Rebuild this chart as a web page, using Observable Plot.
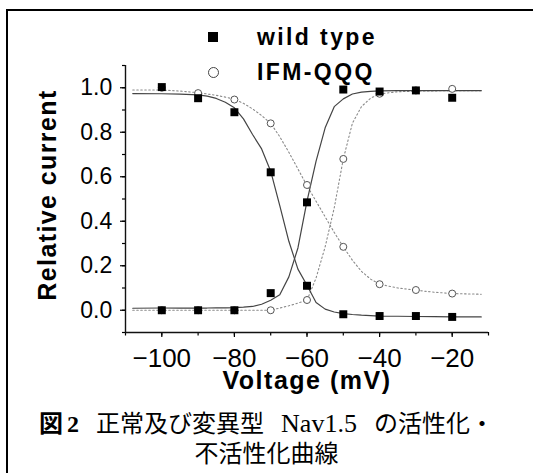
<!DOCTYPE html>
<html>
<head>
<meta charset="utf-8">
<script src="https://cdn.jsdelivr.net/npm/d3@7"></script>
<script src="https://cdn.jsdelivr.net/npm/@observablehq/plot@0.6"></script>
<style>
  html, body { margin: 0; padding: 0; background: #fff; }
  #wrap { position: relative; width: 533px; height: 473px; overflow: hidden; background: #fff; }
  #chart { position: absolute; left: 0; top: 0; }
  #frame { position: absolute; left: 6px; top: 9px; width: 700px; height: 700px;
           border-left: 2px solid #000; border-top: 2px solid #000; pointer-events: none; }
  .leg { position: absolute; font-family: "Liberation Sans", Arial, sans-serif; font-weight: bold;
         font-size: 23px; line-height: 23px; letter-spacing: 2.4px; color: #000; white-space: nowrap; }
  .sym-sq { position: absolute; width: 10px; height: 10px; background: #000; }
  .sym-ci { position: absolute; width: 9px; height: 9px; border: 1px solid #444; border-radius: 50%; background: #fff; }
  .cap { position: absolute; left: 0; width: 533px; text-align: center; font-size: 24px; line-height: 33px;
         font-family: "Liberation Serif", "Noto Sans CJK JP", serif; color: #000; white-space: nowrap; }
  .cap .fig { font-family: "Noto Sans CJK JP", sans-serif; font-weight: bold; }
  .cap .num { font-family: "Liberation Serif", serif; font-weight: bold; margin-left: 4px; }
  .cap .g { margin-left: 17px; }
  .cap .lat { font-size: 26px; }
</style>
</head>
<body>
<div id="wrap">
  <div id="chart"></div>
  <div class="sym-sq" style="left:208px; top:32px;"></div>
  <div class="leg" style="left:257px; top:25.5px;">wild type</div>
  <div class="sym-ci" style="left:208px; top:67px;"></div>
  <div class="leg" style="left:257px; top:60.5px;">IFM-QQQ</div>
  <div class="cap" style="top:405px;"><span class="fig">図</span><span class="num">2</span><span class="g">正常及び変異型</span><span class="g lat">Nav1.5</span><span class="g">の活性化・</span></div>
  <div class="cap" style="top:438px;">不活性化曲線</div>
  <div id="frame"></div>
</div>
<script>
// ---- data ----
const voltages = [-100, -90, -80, -70, -60, -50, -40, -30, -20];
const wtActivation   = [0.0, 0.0, 0.0, 0.077, 0.485, 0.992, 0.983, 0.988, 0.955];
const wtInactivation = [1.003, 0.953, 0.89, 0.62, 0.11, -0.018, -0.026, -0.026, -0.03];
const qqqActivation   = [0.0, 0.0, 0.0, 0.0, 0.046, 0.68, 0.973, 0.988, 0.995];
const qqqInactivation = [1.0, 0.976, 0.947, 0.84, 0.563, 0.285, 0.117, 0.091, 0.075];

// fitted curves
const curveVoltages = [-108, -100, -95, -90, -87.5, -85, -82.5, -80, -77.5, -75, -72.5, -70, -67.5, -65, -62.5, -60, -57.5, -55, -52.5, -50, -47.5, -45, -42.5, -40, -35, -30, -25, -20, -12];
const wtActCurve   = [0.009, 0.01, 0.01, 0.01, 0.01, 0.011, 0.011, 0.012, 0.014, 0.017, 0.027, 0.045, 0.07, 0.15, 0.28, 0.49, 0.67, 0.82, 0.915, 0.95, 0.972, 0.98, 0.984, 0.986, 0.987, 0.987, 0.987, 0.987, 0.987];
const wtInactCurve = [0.974, 0.973, 0.971, 0.968, 0.962, 0.952, 0.935, 0.91, 0.86, 0.79, 0.725, 0.625, 0.47, 0.31, 0.185, 0.112, 0.035, 0.005, -0.008, -0.015, -0.019, -0.022, -0.024, -0.026, -0.027, -0.028, -0.029, -0.03, -0.03];
const qqqActCurve   = [0.0, 0.0, 0.0, 0.0, 0.0, 0.0, 0.0, 0.0, 0.0, 0.0, 0.0, 0.0, 0.01, 0.02, 0.032, 0.045, 0.145, 0.285, 0.46, 0.68, 0.84, 0.915, 0.953, 0.972, 0.982, 0.985, 0.986, 0.987, 0.987];
const qqqInactCurve = [0.99, 0.99, 0.985, 0.978, 0.972, 0.966, 0.958, 0.948, 0.93, 0.905, 0.875, 0.84, 0.78, 0.71, 0.635, 0.56, 0.49, 0.42, 0.35, 0.285, 0.225, 0.175, 0.14, 0.117, 0.1, 0.09, 0.081, 0.075, 0.072];

const xDomain = [-110, -10];
const yDomain = [-0.1, 1.1];
const xMajorTicks = [-100, -80, -60, -40, -20];
const xMinorTicks = [-110, -100, -90, -80, -70, -60, -50, -40, -30, -20, -10];
const yMajorTicks = [0.0, 0.2, 0.4, 0.6, 0.8, 1.0];
const yMinorTicks = [-0.1, 0.0, 0.1, 0.2, 0.3, 0.4, 0.5, 0.6, 0.7, 0.8, 0.9, 1.0, 1.1];
const xLabel = "Voltage (mV)";
const yLabel = "Relative current";

// ---- tables ----
const points = voltages.map((v, i) => ({
  v, wtAct: wtActivation[i], wtInact: wtInactivation[i], qAct: qqqActivation[i], qInact: qqqInactivation[i]
}));
const curve = curveVoltages.map((v, i) => ({
  v, wtAct: wtActCurve[i], wtInact: wtInactCurve[i], qAct: qqqActCurve[i], qInact: qqqInactCurve[i]
}));

const solid = {stroke: "#444", strokeWidth: 1.2};
const dotted = {stroke: "#8a8a8a", strokeWidth: 1.1, strokeDasharray: "1.5,2.5"};
const sq = {symbol: "square", r: 4.5, fill: "#000", stroke: "none"};
const ci = {r: 3.5, fill: "#fff", stroke: "#555", strokeWidth: 1};

const chart = Plot.plot({
  width: 533,
  height: 400,
  marginLeft: 125,
  marginRight: 45,
  marginTop: 65,
  marginBottom: 68,
  style: {fontFamily: "'Liberation Sans', Arial, sans-serif", color: "#000", background: "transparent", overflow: "visible"},
  x: {domain: xDomain},
  y: {domain: yDomain},
  marks: [
    Plot.axisX({ticks: xMinorTicks, tickSize: 3.5, tickFormat: () => "", label: null, strokeWidth: 1.2}),
    Plot.axisX({ticks: xMajorTicks, tickSize: 5, tickPadding: 11, tickFormat: d3.format("d"), fontSize: 26, label: null, strokeWidth: 1.2}),
    Plot.axisY({ticks: yMinorTicks, tickSize: 3, tickFormat: () => "", label: null, strokeWidth: 1.2}),
    Plot.axisY({ticks: yMajorTicks, tickSize: 5, tickPadding: 8.3, tickFormat: d3.format(".1f"), fontSize: 23, label: null, strokeWidth: 1.2}),
    Plot.ruleX([xDomain[0]], {stroke: "#111", strokeWidth: 1.4}),
    Plot.ruleY([yDomain[0]], {stroke: "#111", strokeWidth: 1.4}),
    Plot.text([yLabel], {text: d => d, frameAnchor: "left", textAnchor: "middle", lineAnchor: "middle", rotate: -90, dx: -78, dy: -4, fontSize: 25, fontWeight: "bold"}),
    Plot.text([xLabel], {text: d => d, frameAnchor: "bottom", textAnchor: "middle", lineAnchor: "middle", dy: 48.5, fontSize: 25, fontWeight: "bold"}),
    Plot.line(curve, {x: "v", y: "qInact", ...dotted}),
    Plot.line(curve, {x: "v", y: "qAct", ...dotted}),
    Plot.line(curve, {x: "v", y: "wtInact", ...solid}),
    Plot.line(curve, {x: "v", y: "wtAct", ...solid}),
    Plot.dot(points, {x: "v", y: "qInact", ...ci}),
    Plot.dot(points, {x: "v", y: "qAct", ...ci}),
    Plot.dot(points, {x: "v", y: "wtInact", ...sq}),
    Plot.dot(points, {x: "v", y: "wtAct", ...sq})
  ]
});

d3.select(chart).selectAll("text").each(function() {
  const t = this.textContent;
  if (t === yLabel) d3.select(this).attr("letter-spacing", "1.4px");
  if (t === xLabel) d3.select(this).attr("letter-spacing", "1.5px");
});

document.getElementById("chart").appendChild(chart);
</script>
</body>
</html>
